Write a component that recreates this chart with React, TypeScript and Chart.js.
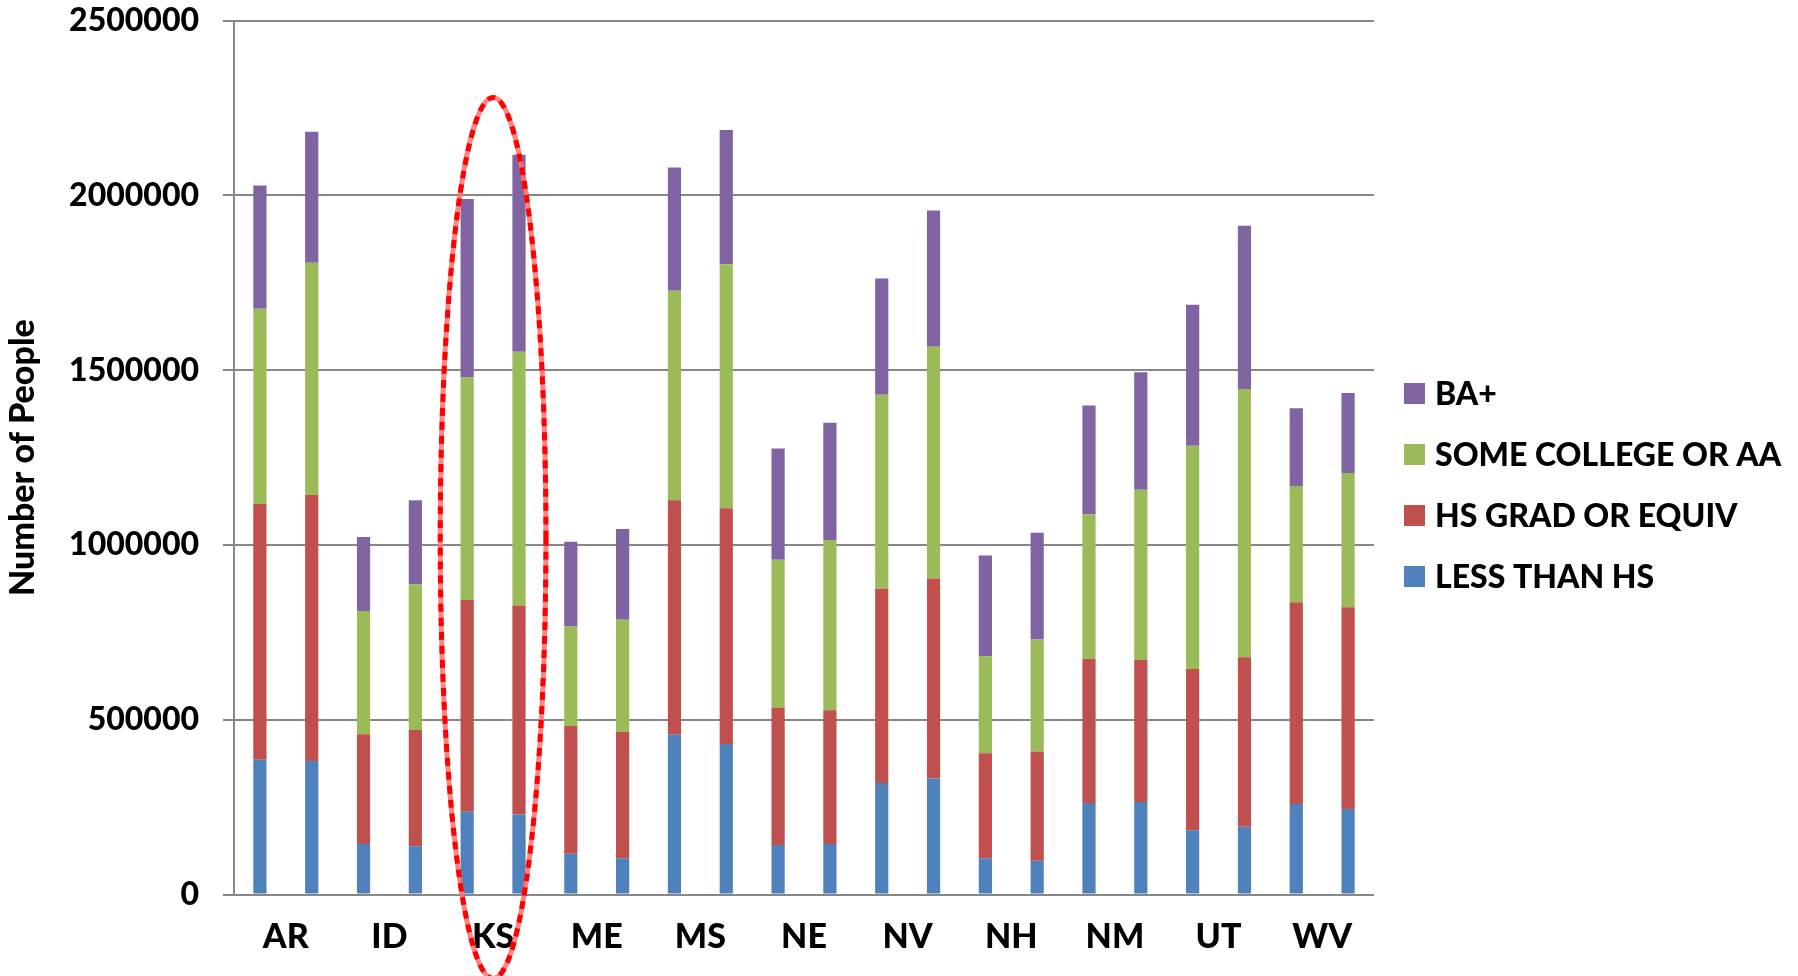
import React, { useEffect, useRef } from "react";
import { Chart, registerables } from "chart.js";

Chart.register(...registerables);

// ---- Data -------------------------------------------------------------
const STATES = ["AR", "ID", "KS", "ME", "MS", "NE", "NV", "NH", "NM", "UT", "WV"];
// two bars per state
const BAR_SLOTS = STATES.flatMap((s) => [s + " (1)", s + " (2)"]);

const LESS_THAN_HS = [
  386000, 382000, 145000, 138000, 237000, 229000, 117000, 104000, 457000, 431000, 142000,
  145000, 319000, 332000, 104000, 97000, 262000, 265000, 184000, 194000, 259000, 245000,
];
const HS_GRAD = [
  731000, 761000, 314000, 333000, 606000, 598000, 365000, 361000, 671000, 674000, 393000,
  382000, 556000, 572000, 300000, 312000, 412000, 406000, 461000, 485000, 577000, 577000,
];
const SOME_COLLEGE = [
  559000, 664000, 352000, 417000, 636000, 726000, 285000, 321000, 599000, 698000, 423000,
  487000, 555000, 663000, 278000, 321000, 414000, 487000, 639000, 767000, 333000, 384000,
];
const BA_PLUS = [
  352000, 375000, 212000, 240000, 511000, 563000, 242000, 260000, 353000, 384000, 318000,
  336000, 332000, 390000, 288000, 305000, 311000, 336000, 403000, 467000, 222000, 229000,
];

const SERIES_NAMES = ["LESS THAN HS", "HS GRAD OR EQUIV", "SOME COLLEGE OR AA", "BA+"];
const SERIES_COLORS = ["#4F81BD", "#C0504D", "#9BBB59", "#8064A2"];

const Y_MIN = 0;
const Y_MAX = 2500000;
const Y_STEP = 500000;
const Y_TITLE = "Number of People";

// red dashed ellipse highlighting one state (value-space extent)
const HIGHLIGHT_STATE = "KS";
const HIGHLIGHT_TOP = 2280000;
const HIGHLIGHT_BOTTOM = -240000;
const HIGHLIGHT_X_RADIUS = 1.02; // in bar slots

// ---- Styles ------------------------------------------------------------
const FONT_FAMILY = "Lato, 'Open Sans', 'DejaVu Sans', sans-serif";
const FONT_WEIGHT = "900";
const GRID = "#878787";
const W = 1798;
const H = 976;

const ellipsePlugin = {
  id: "highlightEllipse",
  afterDraw(chart: any) {
    const xs = chart.scales.x;
    const ys = chart.scales.y;
    const i = STATES.indexOf(HIGHLIGHT_STATE);
    if (i < 0) return;
    const p0 = xs.getPixelForValue(2 * i);
    const p1 = xs.getPixelForValue(2 * i + 1);
    const cx = (p0 + p1) / 2;
    const slot = p1 - p0;
    const rx = slot * HIGHLIGHT_X_RADIUS;
    const yTop = ys.getPixelForValue(HIGHLIGHT_TOP);
    const yBot = ys.getPixelForValue(HIGHLIGHT_BOTTOM);
    const cy = (yTop + yBot) / 2;
    const ry = (yBot - yTop) / 2;
    const ctx = chart.ctx;
    ctx.save();
    ctx.beginPath();
    ctx.ellipse(cx, cy, rx, ry, 0, 0, Math.PI * 2);
    ctx.lineWidth = 5;
    ctx.strokeStyle = "rgba(255,110,110,0.85)";
    ctx.stroke();
    ctx.beginPath();
    ctx.ellipse(cx, cy, rx, ry, 0, 0, Math.PI * 2);
    ctx.setLineDash([8, 6]);
    ctx.strokeStyle = "#ff0000";
    ctx.stroke();
    ctx.restore();
  },
};

const legendPlugin = {
  id: "sideLegend",
  afterDraw(chart: any) {
    const ctx = chart.ctx;
    const area = chart.chartArea;
    const ds = chart.data.datasets;
    const box = 21;
    const rowGap = 61;
    const x0 = area.right + 30;
    const n = ds.length;
    const centerY = 485;
    const firstY = centerY - ((n - 1) * rowGap) / 2;
    ctx.save();
    ctx.font = `${FONT_WEIGHT} 32px ${FONT_FAMILY}`;
    ctx.textBaseline = "middle";
    ctx.textAlign = "left";
    for (let k = 0; k < n; k++) {
      const d = ds[n - 1 - k];
      const y = firstY + k * rowGap;
      ctx.fillStyle = d.backgroundColor;
      ctx.fillRect(x0, y - box / 2, box, box);
      ctx.fillStyle = "#000";
      ctx.fillText(d.label, x0 + box + 10, y + 1);
    }
    ctx.restore();
  },
};

export default function App() {
  const ref = useRef<HTMLCanvasElement | null>(null);

  useEffect(() => {
    if (!ref.current) return;
    Chart.defaults.color = "#000";
    const values = [LESS_THAN_HS, HS_GRAD, SOME_COLLEGE, BA_PLUS];
    const chart = new Chart(ref.current, {
      type: "bar",
      data: {
        labels: BAR_SLOTS,
        datasets: SERIES_NAMES.map((name, k) => ({
          label: name,
          data: values[k],
          backgroundColor: SERIES_COLORS[k],
          borderWidth: 0,
          barPercentage: 0.255,
          categoryPercentage: 1.0,
          stack: "s",
        })),
      },
      options: {
        responsive: false,
        devicePixelRatio: 1,
        animation: false,
        events: [],
        layout: { padding: { top: 0, right: W - 1374, left: 0, bottom: 0 } },
        plugins: {
          legend: { display: false },
          tooltip: { enabled: false },
        },
        scales: {
          x: {
            type: "category",
            stacked: true,
            display: false,
          },
          x2: {
            type: "category",
            labels: STATES,
            offset: true,
            position: "bottom",
            grid: { display: false, drawTicks: false },
            border: { display: false },
            ticks: {
              font: { family: FONT_FAMILY, size: 34, weight: FONT_WEIGHT },
              color: "#000",
              padding: 22,
              maxRotation: 0,
              autoSkip: false,
            },
            afterFit: (s: any) => {
              s.height = H - 894.6;
            },
          },
          y: {
            stacked: true,
            min: Y_MIN,
            max: Y_MAX,
            ticks: {
              stepSize: Y_STEP,
              font: { family: FONT_FAMILY, size: 32, weight: FONT_WEIGHT },
              color: "#000",
              padding: 24,
              callback: (v: any) => String(v),
            },
            grid: { color: GRID, lineWidth: 2, tickLength: 11 },
            border: { display: true, color: GRID, width: 2 },
            title: {
              display: true,
              text: Y_TITLE,
              font: { family: FONT_FAMILY, size: 34, weight: FONT_WEIGHT },
              color: "#000",
              padding: { top: 3, bottom: 0 },
            },
            afterFit: (s: any) => {
              s.width = 234;
              s.paddingTop = 20.6;
            },
          },
        },
      },
      plugins: [ellipsePlugin, legendPlugin],
    });
    return () => chart.destroy();
  }, []);

  return (
    <div
      style={{
        position: "fixed",
        left: 0,
        top: 0,
        width: W,
        height: H,
        background: "#fff",
      }}
    >
      <canvas ref={ref} width={W} height={H} style={{ display: "block" }} />
    </div>
  );
}
